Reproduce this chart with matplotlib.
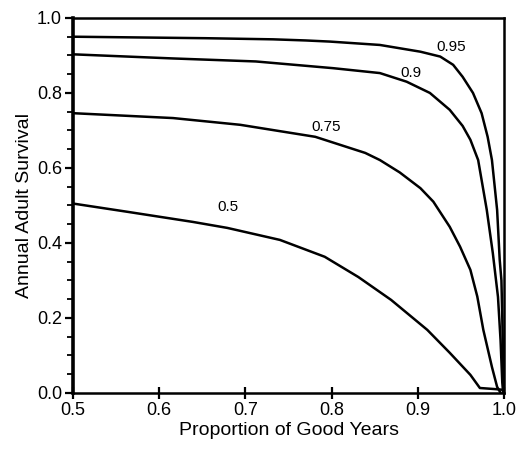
import matplotlib.pyplot as plt
from matplotlib.ticker import MultipleLocator

plt.rcParams['font.family'] = ['Liberation Sans', 'DejaVu Sans']

# Curves: proportion of good years vs annual adult survival
x95 = [0.5, 0.654, 0.732, 0.770, 0.798, 0.856, 0.903, 0.926, 0.941, 0.952, 0.964, 0.974,
       0.981, 0.986, 0.992, 0.995, 0.997, 0.998, 0.999, 1.0]
y95 = [0.950, 0.946, 0.943, 0.940, 0.937, 0.928, 0.910, 0.897, 0.875, 0.843, 0.800, 0.746,
       0.683, 0.621, 0.488, 0.355, 0.300, 0.200, 0.08, 0.0]

x90 = [0.5, 0.616, 0.712, 0.802, 0.856, 0.887, 0.914, 0.937, 0.952, 0.961, 0.970, 0.980,
       0.987, 0.993, 0.996, 0.998, 0.999]
y90 = [0.903, 0.892, 0.884, 0.866, 0.853, 0.830, 0.800, 0.755, 0.712, 0.675, 0.621, 0.488,
       0.373, 0.256, 0.140, 0.027, 0.0]

x75 = [0.5, 0.616, 0.694, 0.732, 0.781, 0.839, 0.856, 0.879, 0.903, 0.918, 0.937, 0.949,
       0.961, 0.969, 0.976, 0.986, 0.992, 0.996]
y75 = [0.746, 0.733, 0.715, 0.701, 0.683, 0.640, 0.621, 0.588, 0.546, 0.510, 0.443, 0.390,
       0.328, 0.257, 0.168, 0.069, 0.016, 0.0]

x50 = [0.5, 0.563, 0.639, 0.679, 0.740, 0.792, 0.831, 0.869, 0.911, 0.937, 0.961, 0.972,
       0.99, 1.0]
y50 = [0.505, 0.483, 0.456, 0.440, 0.408, 0.363, 0.309, 0.248, 0.168, 0.107, 0.048, 0.013,
       0.010, 0.008]

labels = ["0.95", "0.9", "0.75", "0.5"]
label_x = [0.939, 0.892, 0.794, 0.680]
label_y = [0.923, 0.853, 0.709, 0.496]

fig = plt.figure(figsize=(5.18, 4.49), dpi=100)
ax = fig.add_axes([0.141, 0.125, 0.832, 0.835])

for xs, ys in [(x95, y95), (x90, y90), (x75, y75), (x50, y50)]:
    ax.plot(xs, ys, color="black", linewidth=1.8, solid_joinstyle="round")

for t, lx, ly in zip(labels, label_x, label_y):
    ax.text(lx, ly, t, fontsize=11, ha="center", va="center")

ax.set_xlim(0.5, 1.0)
ax.set_ylim(0.0, 1.0)
ax.xaxis.set_major_locator(MultipleLocator(0.1))
ax.yaxis.set_major_locator(MultipleLocator(0.2))
ax.yaxis.set_minor_locator(MultipleLocator(0.05))
ax.xaxis.set_major_formatter(plt.FormatStrFormatter("%.1f"))
ax.yaxis.set_major_formatter(plt.FormatStrFormatter("%.1f"))

ax.tick_params(axis="x", direction="inout", length=9, width=1.6, labelsize=13, pad=2)
ax.tick_params(axis="y", which="major", direction="out", length=6, width=1.6, labelsize=13, pad=2)
ax.tick_params(axis="y", which="minor", direction="out", length=4, width=1.3)

for side in ["top", "right", "bottom"]:
    ax.spines[side].set_linewidth(1.8)
ax.spines["left"].set_linewidth(2.6)

ax.set_xlabel("Proportion of Good Years", fontsize=14, labelpad=2)
ax.set_ylabel("Annual Adult Survival", fontsize=14, labelpad=3)

fig.savefig("out.png", dpi=100)
